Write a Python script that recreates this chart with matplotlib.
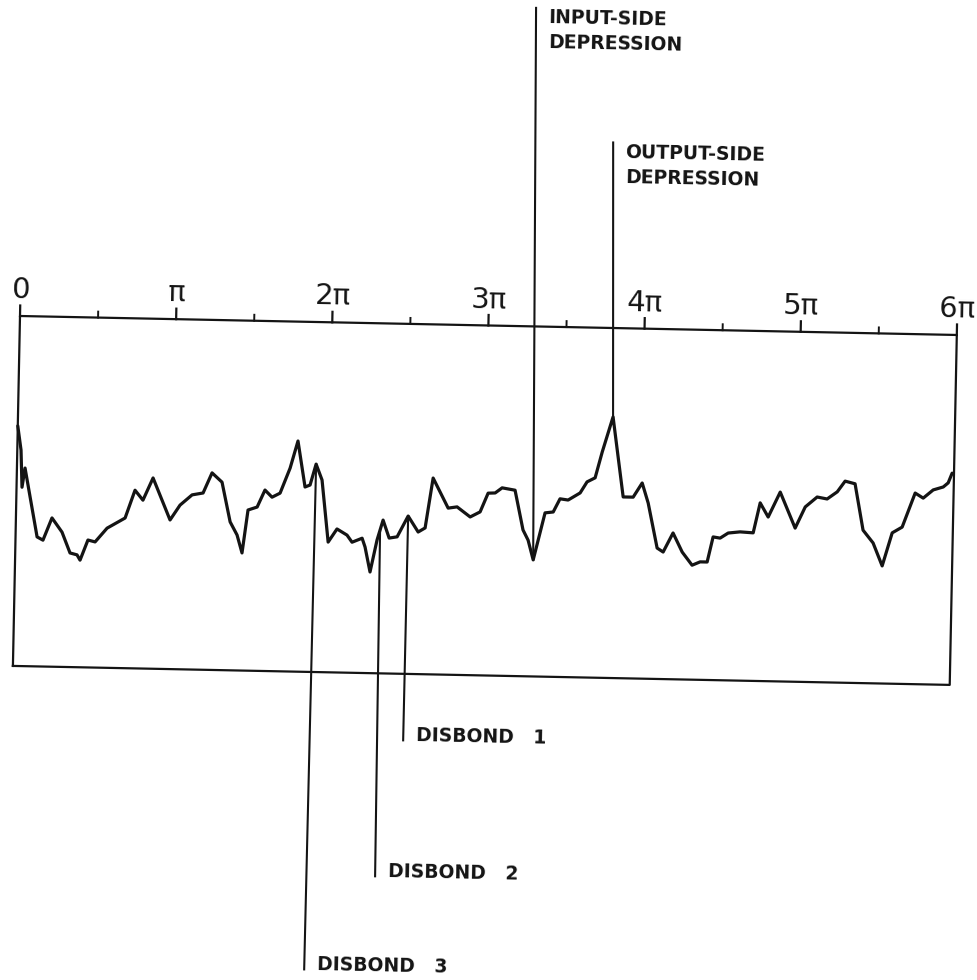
import numpy as np
import matplotlib
matplotlib.use("Agg")
import matplotlib.pyplot as plt
from matplotlib.transforms import Affine2D

# phase along the scan, in multiples of pi
phase = [0.000, 0.024, 0.035, 0.052, 0.138, 0.176, 0.231, 0.297, 0.351, 0.396,
         0.416, 0.464, 0.510, 0.585, 0.699, 0.759, 0.811, 0.873, 0.987, 1.049,
         1.125, 1.195, 1.250, 1.315, 1.372, 1.418, 1.452, 1.485, 1.543, 1.591,
         1.637, 1.688, 1.749, 1.796, 1.847, 1.879, 1.915, 1.955, 2.002, 2.057,
         2.122, 2.155, 2.219, 2.239, 2.274, 2.315, 2.351, 2.392, 2.443, 2.511,
         2.577, 2.621, 2.666, 2.766, 2.823, 2.908, 2.971, 3.020, 3.065, 3.109,
         3.192, 3.248, 3.282, 3.317, 3.387, 3.439, 3.481, 3.533, 3.609, 3.652,
         3.703, 3.745, 3.810, 3.885, 3.949, 4.005, 4.046, 4.109, 4.148, 4.209,
         4.270, 4.335, 4.386, 4.431, 4.466, 4.511, 4.562, 4.638, 4.722, 4.763,
         4.816, 4.890, 4.990, 5.052, 5.127, 5.191, 5.255, 5.304, 5.368, 5.425,
         5.491, 5.552, 5.612, 5.675, 5.754, 5.806, 5.869, 5.933, 5.964, 5.988]

# recorder output (arbitrary units, 0 = bottom of chart strip, 10 = top)
signal = [6.86, 6.17, 5.11, 5.66, 3.70, 3.61, 4.25, 3.85, 3.26, 3.21,
          3.06, 3.64, 3.59, 3.99, 4.29, 5.09, 4.81, 5.45, 4.26, 4.69,
          4.99, 5.05, 5.63, 5.37, 4.24, 3.87, 3.36, 4.59, 4.68, 5.17,
          4.97, 5.09, 5.81, 6.59, 5.28, 5.34, 5.94, 5.49, 3.72, 4.10,
          3.93, 3.73, 3.85, 3.60, 2.89, 3.81, 4.38, 3.87, 3.91, 4.51,
          4.06, 4.18, 5.61, 4.76, 4.80, 4.52, 4.67, 5.21, 5.22, 5.37,
          5.31, 4.18, 3.89, 3.33, 4.68, 4.71, 5.09, 5.06, 5.27, 5.59,
          5.71, 6.45, 7.46, 5.18, 5.18, 5.59, 5.02, 3.74, 3.63, 4.18,
          3.64, 3.27, 3.37, 3.37, 4.09, 4.06, 4.21, 4.25, 4.23, 5.09,
          4.69, 5.41, 4.39, 5.00, 5.29, 5.24, 5.45, 5.76, 5.69, 4.37,
          4.01, 3.36, 4.31, 4.48, 5.46, 5.32, 5.56, 5.65, 5.77, 6.05]

tick_labels = ["0", "π", "2π", "3π", "4π", "5π", "6π"]

# annotated features: text, phase on the trace, end of leader (phase, level)
notes = ["INPUT-SIDE\nDEPRESSION", "OUTPUT-SIDE\nDEPRESSION",
         "DISBOND   1", "DISBOND   2", "DISBOND   3"]
note_phase = [3.317, 3.810, 2.511, 2.333, 1.915]
note_end_phase = [3.264, 3.775, 2.508, 2.346, 1.904]
note_end_level = [19.1, 15.3, -1.9, -5.8, -8.5]

ink = "#141414"
tilt = -1.16  # the chart strip sits slightly skewed on the sheet

fig = plt.figure(figsize=(9.77, 9.80), dpi=100)
ax = fig.add_axes([20 / 977, 314 / 980, 937 / 977, 350 / 980])
ax.set_xlim(0, 6)
ax.set_ylim(0, 10)
ax.axis("off")

cx, cy = ax.transAxes.transform((0, 1))
tr = ax.transData + Affine2D().rotate_deg_around(cx, cy, tilt)

x0, x1 = ax.get_xlim()
y0, y1 = ax.get_ylim()

# chart frame
ax.plot([x0, x1, x1, x0, x0], [y0, y0, y1, y1, y0], color=ink, lw=1.6,
        transform=tr, clip_on=False)

# phase ticks along the top edge
for k, lab in enumerate(tick_labels):
    ax.plot([k, k], [y1, y1 + 0.3], color=ink, lw=1.6, transform=tr, clip_on=False)
    ax.text(k, y1 + 0.5, lab, transform=tr, fontsize=21, ha="center",
            va="baseline", rotation=tilt, rotation_mode="anchor", color=ink)
    if k < len(tick_labels) - 1:
        ax.plot([k + 0.5, k + 0.5], [y1, y1 + 0.17], color=ink, lw=1.4,
                transform=tr, clip_on=False)

# recorded trace
ax.plot(phase, signal, color=ink, lw=2.3, transform=tr, clip_on=False,
        solid_joinstyle="round", solid_capstyle="round")

# leader lines and labels
for txt, xp, xe, ye in zip(notes, note_phase, note_end_phase, note_end_level):
    yp = np.interp(xp, phase, signal)
    ax.plot([xp, xe], [yp, ye], color=ink, lw=1.5, transform=tr, clip_on=False)
    va = "top" if ye > y1 else "baseline"
    ax.text(xe + 0.08, ye, txt, transform=tr, fontsize=13.5, fontweight="bold",
            ha="left", va=va, linespacing=1.4, rotation=tilt,
            rotation_mode="anchor", color=ink)

fig.savefig("out.png", dpi=100, facecolor="white")
